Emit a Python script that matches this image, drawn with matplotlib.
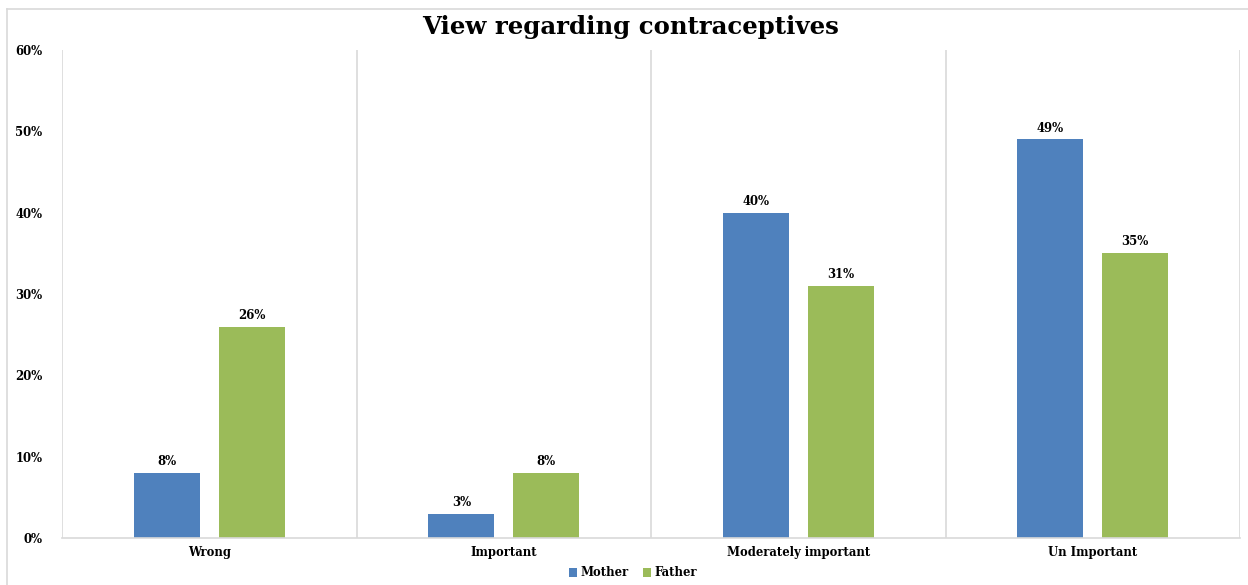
import matplotlib.pyplot as plt
import numpy as np
from matplotlib.lines import Line2D

categories = ["Wrong", "Important", "Moderately important", "Un Important"]
mother = [8, 3, 40, 49]
father = [26, 8, 31, 35]
y_ticks = [0, 10, 20, 30, 40, 50, 60]

blue = "#4F81BD"
green = "#9BBB59"
grid = "#D9D9D9"

# the source image is stretched sideways, a wide serif gets closer than Times
plt.rcParams["font.family"] = ["DejaVu Serif"]
plt.rcParams["font.weight"] = "bold"

fig = plt.figure(figsize=(12.48, 5.85), dpi=100)
ax = fig.add_axes([62 / 1248, 1 - 538 / 585, 1178 / 1248, 488 / 585])

x = np.arange(len(categories))
w = 0.224
off = 0.144
b1 = ax.bar(x - off, mother, w, color=blue, label="Mother")
b2 = ax.bar(x + off, father, w, color=green, label="Father")

for bars in (b1, b2):
    for r in bars:
        ax.text(r.get_x() + r.get_width() / 2, r.get_height() + 0.6,
                f"{r.get_height():.0f}%", ha="center", va="bottom",
                fontsize=8.4, fontweight="bold")

ax.set_xlim(-0.5, len(categories) - 0.5)
ax.set_ylim(0, 60)
ax.set_yticks(y_ticks)
ax.set_yticklabels([f"{t}%" for t in y_ticks], fontsize=8.4, fontweight="bold")
ax.set_xticks(x)
ax.set_xticklabels(categories, fontsize=8.4, fontweight="bold")
ax.tick_params(length=0)
ax.tick_params(axis="y", pad=14)
ax.tick_params(axis="x", pad=6)

for xv in np.arange(-0.5, len(categories), 1.0):
    ax.axvline(xv, color=grid, lw=1.2, zorder=0)
for s in ["top", "right", "left"]:
    ax.spines[s].set_visible(False)
ax.spines["bottom"].set_color(grid)
ax.spines["bottom"].set_linewidth(1.2)

fig.text(631 / 1248, 1 - 27 / 585, "View regarding contraceptives",
         ha="center", va="center", fontsize=17.6, fontweight="bold")

fig.legend(handles=[b1, b2], loc="center", bbox_to_anchor=(633 / 1248, 1 - 573 / 585),
           ncol=2, frameon=False, fontsize=8.4, handlelength=0.7, handleheight=0.7,
           columnspacing=1.2, handletextpad=0.3)

# outer frame of the pasted chart
fig.add_artist(Line2D([7 / 1248, 7 / 1248], [0, 1 - 9 / 585], transform=fig.transFigure,
                      color=grid, lw=1.2))
fig.add_artist(Line2D([7 / 1248, 1], [1 - 9 / 585, 1 - 9 / 585], transform=fig.transFigure,
                      color=grid, lw=1.2))

fig.savefig("out.png", dpi=100)
